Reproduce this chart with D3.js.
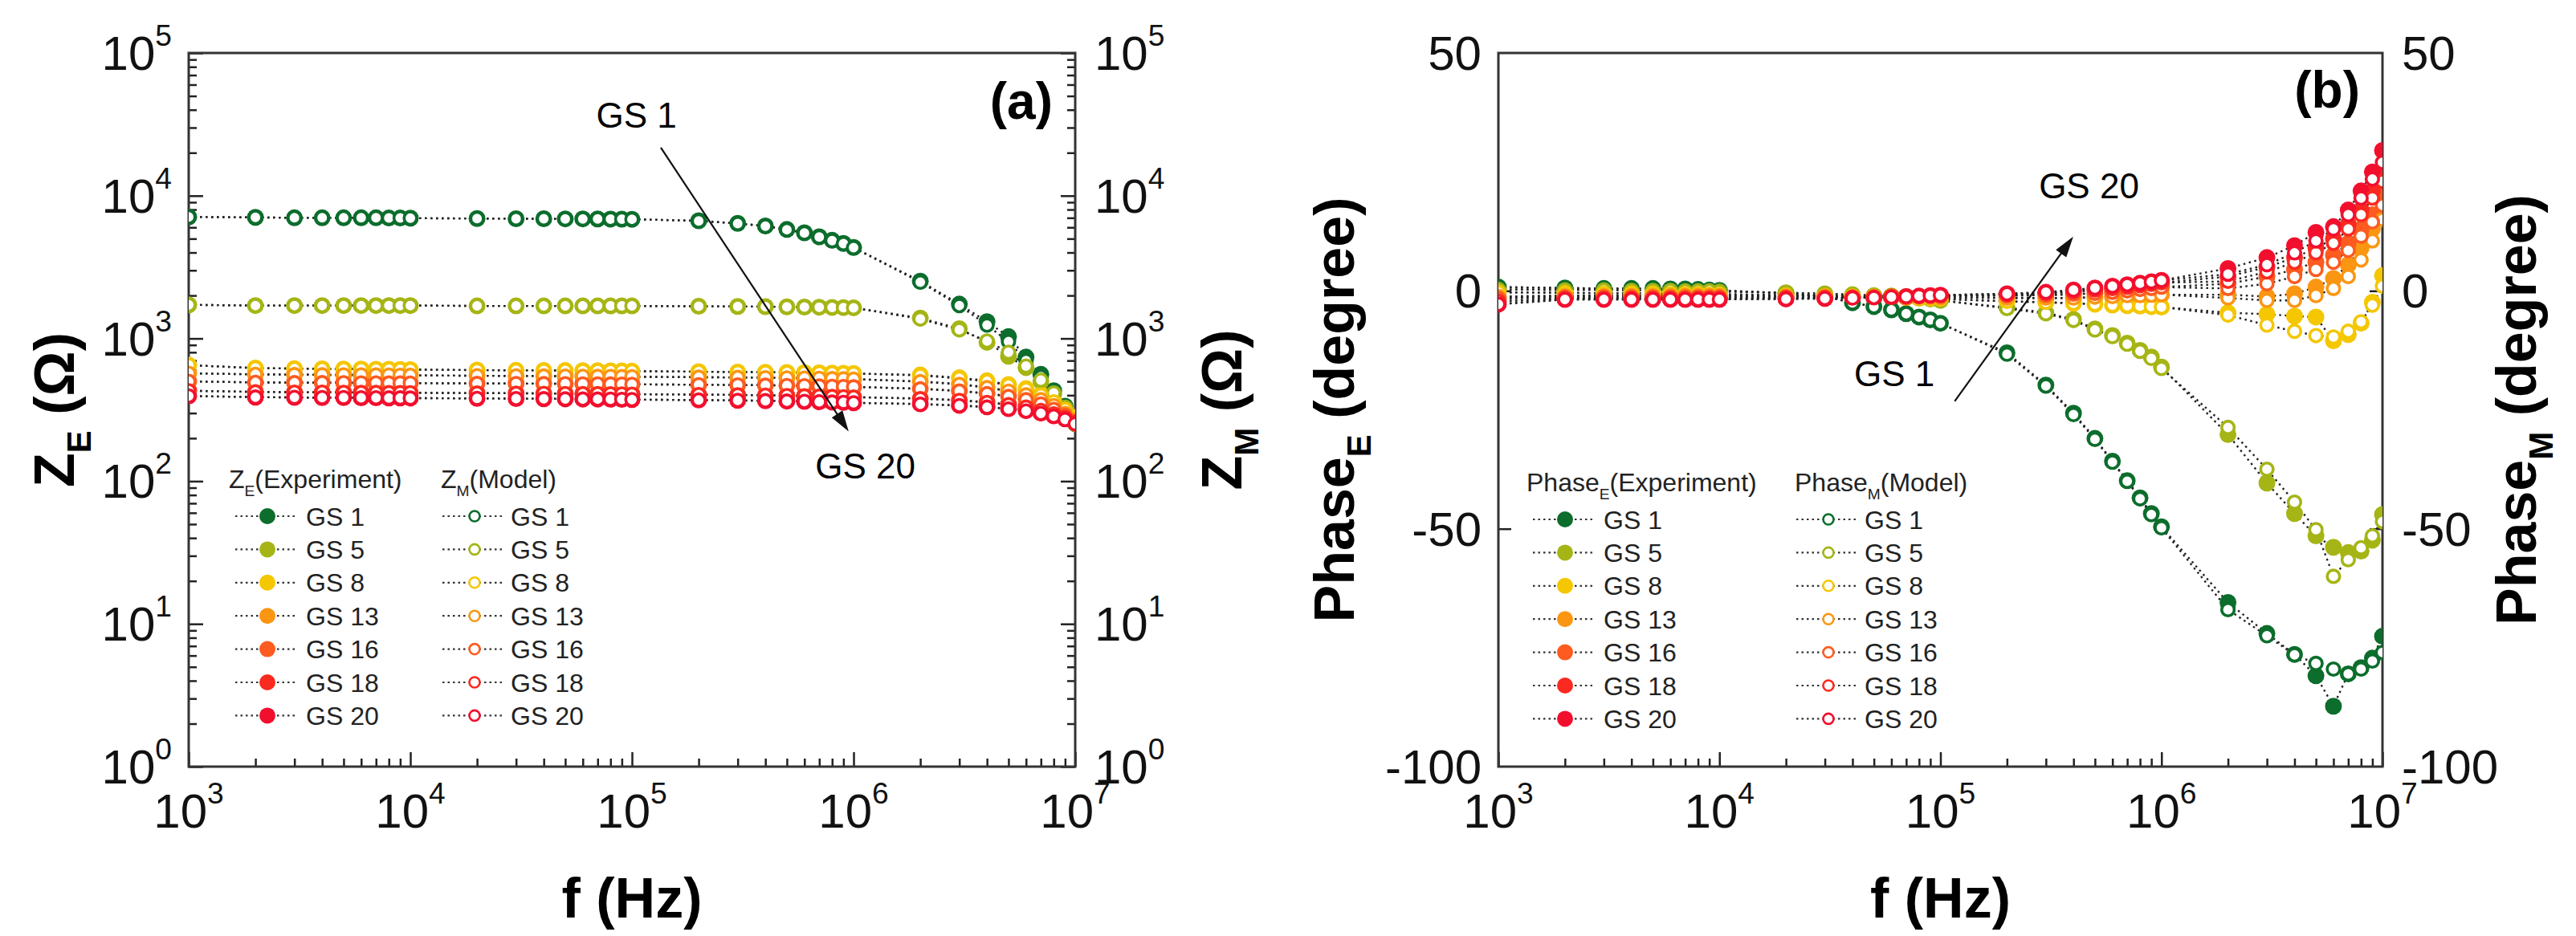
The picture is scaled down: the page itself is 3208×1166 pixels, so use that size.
<!DOCTYPE html>
<html>

<head>
  <meta charset="UTF-8">
  <style>
    body { margin: 0; background: #fff; }
    svg { display: block; font-family: "Liberation Sans", Arial, sans-serif; }
  </style>
</head>

<body>
  <svg></svg>
  <script src="https://d3js.org/d3.v7.min.js"></script>

  <script>

    let width = 3208, height = 1166;

    // measured frequencies (Hz)
    let freq = [1e3, 2e3, 3e3, 4e3, 5e3, 6e3, 7e3, 8e3, 9e3, 1e4,
      2e4, 3e4, 4e4, 5e4, 6e4, 7e4, 8e4, 9e4, 1e5,
      2e5, 3e5, 4e5, 5e5, 6e5, 7e5, 8e5, 9e5, 1e6,
      2e6, 3e6, 4e6, 5e6, 6e6, 7e6, 8e6, 9e6, 1e7];

    let samples = ["GS 1", "GS 5", "GS 8", "GS 13", "GS 16", "GS 18", "GS 20"];
    let colors = ["#0c6d2c", "#a5b515", "#f4c700", "#fb9612", "#fd5b20", "#fa2a20", "#f20f2e"];

    // impedance magnitude (ohm), experiment
    let zE_GS1 = [7100, 7050, 7000, 7000, 7000, 7000, 7000, 6980, 6980, 6960, 6920, 6900, 6900, 6880, 6880, 6870, 6860, 6850, 6840, 6680, 6400, 6140, 5800, 5500, 5150, 4870, 4630, 4340, 2520, 1740, 1310, 1030, 740, 560, 430, 335, 265];
    let zE_GS5 = [1720, 1700, 1700, 1700, 1700, 1700, 1700, 1700, 1700, 1700, 1690, 1690, 1690, 1690, 1690, 1690, 1690, 1690, 1690, 1680, 1675, 1670, 1665, 1660, 1655, 1650, 1645, 1640, 1390, 1170, 940, 750, 625, 500, 410, 325, 255];
    let zE_GS8 = [650, 620, 615, 612, 610, 610, 608, 608, 606, 605, 600, 598, 597, 596, 595, 594, 593, 592, 590, 585, 582, 580, 578, 576, 574, 572, 570, 568, 555, 530, 505, 475, 445, 405, 365, 320, 280];
    let zE_GS13 = [570, 560, 558, 556, 555, 555, 554, 553, 552, 551, 548, 546, 545, 544, 543, 542, 541, 540, 539, 535, 533, 531, 529, 527, 525, 523, 521, 519, 500, 480, 455, 430, 405, 375, 340, 300, 270];
    let zE_GS16 = [500, 492, 490, 490, 489, 488, 488, 487, 487, 486, 484, 483, 482, 481, 480, 480, 479, 478, 477, 474, 472, 470, 468, 466, 464, 462, 460, 458, 445, 430, 412, 395, 375, 350, 320, 290, 265];
    let zE_GS18 = [430, 422, 420, 420, 419, 418, 418, 417, 417, 416, 414, 413, 412, 411, 410, 410, 409, 408, 407, 404, 402, 400, 398, 396, 394, 392, 390, 388, 380, 370, 358, 345, 332, 315, 298, 280, 260];
    let zE_GS20 = [395, 388, 386, 385, 385, 384, 384, 383, 383, 382, 380, 379, 378, 377, 376, 376, 375, 374, 373, 370, 368, 366, 364, 362, 360, 358, 356, 354, 348, 340, 332, 322, 312, 300, 287, 273, 255];

    // impedance magnitude (ohm), model
    let zM_GS1 = [7100, 7050, 7000, 7000, 7000, 7000, 7000, 6980, 6980, 6960, 6920, 6900, 6900, 6880, 6880, 6870, 6860, 6850, 6840, 6660, 6380, 6120, 5780, 5480, 5130, 4850, 4610, 4320, 2480, 1700, 1240, 950, 700, 540, 415, 325, 250];
    let zM_GS5 = [1720, 1700, 1700, 1700, 1700, 1700, 1700, 1700, 1700, 1700, 1690, 1690, 1690, 1690, 1690, 1690, 1690, 1690, 1690, 1680, 1675, 1670, 1665, 1660, 1655, 1650, 1645, 1640, 1370, 1150, 960, 800, 640, 510, 415, 328, 250];
    let zM_GS8 = [650, 620, 615, 612, 610, 610, 608, 608, 606, 605, 600, 598, 597, 596, 595, 594, 593, 592, 590, 585, 582, 580, 578, 576, 574, 572, 570, 568, 550, 525, 500, 470, 440, 400, 360, 318, 278];
    let zM_GS13 = [570, 560, 558, 556, 555, 555, 554, 553, 552, 551, 548, 546, 545, 544, 543, 542, 541, 540, 539, 535, 533, 531, 529, 527, 525, 523, 521, 519, 498, 476, 452, 427, 402, 372, 338, 298, 268];
    let zM_GS16 = [500, 492, 490, 490, 489, 488, 488, 487, 487, 486, 484, 483, 482, 481, 480, 480, 479, 478, 477, 474, 472, 470, 468, 466, 464, 462, 460, 458, 443, 428, 410, 392, 372, 347, 318, 288, 262];
    let zM_GS18 = [430, 422, 420, 420, 419, 418, 418, 417, 417, 416, 414, 413, 412, 411, 410, 410, 409, 408, 407, 404, 402, 400, 398, 396, 394, 392, 390, 388, 378, 368, 356, 343, 330, 313, 296, 278, 258];
    let zM_GS20 = [395, 388, 386, 385, 385, 384, 384, 383, 383, 382, 380, 379, 378, 377, 376, 376, 375, 374, 373, 370, 368, 366, 364, 362, 360, 358, 356, 354, 346, 338, 330, 320, 310, 298, 285, 271, 252];

    // phase (degree), experiment
    let pE_GS1 = [0.8, 0.6, 0.5, 0.5, 0.5, 0.4, 0.4, 0.3, 0.2, 0.1, -0.5, -1.2, -2.5, -3.3, -4.0, -4.8, -5.5, -6.1, -6.8, -13, -19.8, -25.7, -31, -35.8, -39.9, -43.5, -46.8, -49.6, -65.5, -72, -76.4, -80.9, -87.3, -80.5, -79.2, -77.2, -72.6];
    let pE_GS5 = [0.3, 0.2, 0.2, 0.1, 0.1, 0.1, 0, 0, 0, -0.1, -0.4, -0.6, -0.8, -1, -1.1, -1.3, -1.5, -1.7, -2, -3.5, -4.6, -6, -8, -9.4, -11, -12.5, -13.9, -16, -30.2, -40.4, -46.8, -51.5, -53.9, -55, -54.7, -52.4, -47];
    let pE_GS8 = [-0.3, -0.4, -0.5, -0.5, -0.5, -0.6, -0.6, -0.6, -0.7, -0.7, -0.9, -1, -1.1, -1.2, -1.3, -1.4, -1.5, -1.6, -1.7, -2.2, -2.4, -2.6, -2.8, -3, -3.1, -3.2, -3.3, -3.4, -4.6, -4.9, -5.3, -5.5, -10.5, -9.2, -6.8, -2.4, 3.2];
    let pE_GS13 = [-1.2, -1, -1, -1, -1, -1, -1, -1, -1, -1, -1.1, -1.1, -1.2, -1.2, -1.2, -1.3, -1.3, -1.3, -1.4, -1.5, -1.5, -1.5, -1.3, -1.2, -1, -1, -0.9, -0.8, -0.8, -1.2, -0.6, 0.8, 2.6, 5.5, 9, 13, 17];
    let pE_GS16 = [-1.6, -1.3, -1.3, -1.3, -1.3, -1.3, -1.3, -1.3, -1.3, -1.3, -1.3, -1.3, -1.3, -1.3, -1.2, -1.2, -1.2, -1.1, -1.1, -1, -0.9, -0.7, -0.5, -0.3, 0, 0.3, 0.5, 0.8, 1.5, 3, 4.5, 6, 7.5, 10, 13, 16, 20];
    let pE_GS18 = [-2.2, -1.6, -1.6, -1.6, -1.6, -1.6, -1.6, -1.6, -1.6, -1.6, -1.5, -1.5, -1.4, -1.4, -1.3, -1.3, -1.2, -1.1, -1, -0.8, -0.5, -0.2, 0.2, 0.5, 0.8, 1.1, 1.4, 1.7, 3, 5, 7, 9, 11, 14, 17, 21, 24];
    let pE_GS20 = [-2.8, -1.8, -1.8, -1.8, -1.8, -1.8, -1.8, -1.8, -1.8, -1.8, -1.7, -1.6, -1.5, -1.4, -1.3, -1.2, -1.1, -1, -0.9, -0.6, -0.3, 0.2, 0.6, 1, 1.3, 1.6, 1.9, 2.2, 4.7, 7, 9.5, 12.3, 13.5, 17, 21, 25, 29.5];

    // phase (degree), model
    let pM_GS1 = [0.8, 0.6, 0.5, 0.5, 0.5, 0.4, 0.4, 0.3, 0.2, 0.1, -0.5, -1.2, -2.5, -3.3, -4.0, -4.8, -5.5, -6.1, -6.8, -13.3, -20, -26, -31.2, -36, -40, -43.7, -47, -49.8, -67, -72.5, -76.5, -78.3, -79.5, -80.5, -79.5, -77.8, -76];
    let pM_GS5 = [0.3, 0.2, 0.2, 0.1, 0.1, 0.1, 0, 0, 0, -0.1, -0.4, -0.6, -0.8, -1, -1.1, -1.3, -1.5, -1.7, -2, -3.7, -4.8, -6.2, -8.2, -9.6, -11.2, -12.7, -14.2, -16.3, -28.7, -37.5, -44.4, -50.2, -60, -56.5, -54, -51.5, -48.5];
    let pM_GS8 = [-0.3, -0.4, -0.5, -0.5, -0.5, -0.6, -0.6, -0.6, -0.7, -0.7, -0.9, -1, -1.1, -1.2, -1.3, -1.4, -1.5, -1.6, -1.7, -2.2, -2.4, -2.6, -2.8, -3, -3.1, -3.2, -3.3, -3.4, -5.1, -7.2, -8.5, -9.4, -9.7, -8.5, -6.5, -3, 1];
    let pM_GS13 = [-1.2, -1, -1, -1, -1, -1, -1, -1, -1, -1, -1.1, -1.1, -1.2, -1.2, -1.2, -1.3, -1.3, -1.3, -1.4, -1.5, -1.5, -1.5, -1.3, -1.2, -1, -1, -0.9, -0.8, -1.5, -2, -2, -1, 0.5, 3, 6.5, 10.5, 15];
    let pM_GS16 = [-1.6, -1.3, -1.3, -1.3, -1.3, -1.3, -1.3, -1.3, -1.3, -1.3, -1.3, -1.3, -1.3, -1.3, -1.2, -1.2, -1.2, -1.1, -1.1, -1, -0.9, -0.7, -0.5, -0.3, 0, 0.3, 0.5, 0.8, 0.5, 1.5, 3, 4.5, 6, 8.5, 11.5, 14.5, 18];
    let pM_GS18 = [-2.2, -1.6, -1.6, -1.6, -1.6, -1.6, -1.6, -1.6, -1.6, -1.6, -1.5, -1.5, -1.4, -1.4, -1.3, -1.3, -1.2, -1.1, -1, -0.8, -0.5, -0.2, 0.2, 0.5, 0.8, 1.1, 1.4, 1.7, 2, 4, 6, 8, 10, 13, 16, 19.5, 23];
    let pM_GS20 = [-2.8, -1.8, -1.8, -1.8, -1.8, -1.8, -1.8, -1.8, -1.8, -1.8, -1.7, -1.6, -1.5, -1.4, -1.3, -1.2, -1.1, -1, -0.9, -0.6, -0.3, 0.2, 0.6, 1, 1.3, 1.6, 1.9, 2.2, 3.5, 5.5, 8, 10.5, 13, 16, 19.5, 23.5, 27];

    let zExp = [zE_GS1, zE_GS5, zE_GS8, zE_GS13, zE_GS16, zE_GS18, zE_GS20];
    let zMod = [zM_GS1, zM_GS5, zM_GS8, zM_GS13, zM_GS16, zM_GS18, zM_GS20];
    let pExp = [pE_GS1, pE_GS5, pE_GS8, pE_GS13, pE_GS16, pE_GS18, pE_GS20];
    let pMod = [pM_GS1, pM_GS5, pM_GS8, pM_GS13, pM_GS16, pM_GS18, pM_GS20];

    let xMajor = [1e3, 1e4, 1e5, 1e6, 1e7];
    let zMajor = [1, 10, 100, 1e3, 1e4, 1e5];
    let pMajor = [50, 0, -50, -100];

    let svg = d3.select("svg")
      .attr("width", width)
      .attr("height", height)
      .attr("viewBox", "0 0 " + width + " " + height);

    let plotTop = 66, plotBottom = 955;
    let tickFont = 60, titleFont = 70, legFont = 32;

    // minor ticks of a log scale (2..9 of each decade)
    function logMinor(scale) {
      let [a, b] = scale.domain();
      let out = [];
      for (let e = Math.log10(a); e < Math.log10(b); e++)
        for (let k = 2; k <= 9; k++) out.push(k * Math.pow(10, e));
      return out;
    }

    function powText(sel, v) {
      sel.append("tspan").text("10");
      sel.append("tspan").attr("dy", -0.5 * tickFont).attr("font-size", 0.62 * tickFont)
        .text(Math.round(Math.log10(v)));
    }

    function subText(sel, main, sub, rest, size) {
      sel.append("tspan").text(main);
      sel.append("tspan").attr("dy", 0.3 * size).attr("font-size", 0.6 * size).text(sub);
      sel.append("tspan").attr("dy", -0.3 * size).text(rest);
    }

    function drawPanel(p) {
      let g = svg.append("g");
      let x = p.x, y = p.y;
      let [x0, x1] = x.range();

      g.append("clipPath").attr("id", p.id + "-clip")
        .append("rect").attr("x", x0).attr("y", plotTop).attr("width", x1 - x0).attr("height", plotBottom - plotTop);

      // bottom axis: inward ticks
      g.append("g").attr("transform", "translate(0," + plotBottom + ")")
        .call(d3.axisBottom(x).tickValues(xMajor).tickSize(-18).tickFormat(""))
        .call(a => a.select(".domain").remove());
      g.append("g").attr("transform", "translate(0," + plotBottom + ")")
        .call(d3.axisBottom(x).tickValues(logMinor(x)).tickSize(-10).tickFormat(""))
        .call(a => a.select(".domain").remove());

      // left / right axes
      let yTicks = p.log ? p.major : p.inner;
      [[x0, d3.axisRight], [x1, d3.axisLeft]].forEach(([px, ax]) => {
        g.append("g").attr("transform", "translate(" + px + ",0)")
          .call(ax(y).tickValues(yTicks).tickSize(p.log ? 18 : 16).tickFormat(""))
          .call(a => a.select(".domain").remove());
        if (p.log) {
          g.append("g").attr("transform", "translate(" + px + ",0)")
            .call(ax(y).tickValues(logMinor(y)).tickSize(10).tickFormat(""))
            .call(a => a.select(".domain").remove());
        }
      });
      g.selectAll(".tick line").attr("stroke", "#222").attr("stroke-width", 2.5);

      // frame
      g.append("rect").attr("x", x0).attr("y", plotTop).attr("width", x1 - x0).attr("height", plotBottom - plotTop)
        .attr("fill", "none").attr("stroke", "#333").attr("stroke-width", 3);

      // tick labels
      xMajor.forEach(v => {
        g.append("text").attr("x", x(v)).attr("y", plotBottom + 76)
          .attr("text-anchor", "middle").attr("font-size", tickFont).attr("fill", "#111")
          .call(powText, v);
      });
      p.major.forEach(v => {
        let l = g.append("text").attr("x", x0 - 21).attr("y", y(v) + 21)
          .attr("text-anchor", "end").attr("font-size", tickFont).attr("fill", "#111");
        let r = g.append("text").attr("x", x1 + 24).attr("y", y(v) + 21)
          .attr("text-anchor", "start").attr("font-size", tickFont).attr("fill", "#111");
        if (p.log) { l.call(powText, v); r.call(powText, v); }
        else { l.text(v); r.text(v); }
      });

      // axis titles
      let cy = (plotTop + plotBottom) / 2;
      g.append("text").attr("transform", "translate(" + p.leftTitleX + "," + cy + ") rotate(-90)")
        .attr("text-anchor", "middle").attr("font-size", titleFont).attr("font-weight", "bold")
        .call(subText, p.title, "E", p.unit, titleFont);
      g.append("text").attr("transform", "translate(" + p.rightTitleX + "," + cy + ") rotate(-90)")
        .attr("text-anchor", "middle").attr("font-size", titleFont).attr("font-weight", "bold")
        .call(subText, p.title, "M", p.unit, titleFont);
      g.append("text").attr("x", (x0 + x1) / 2).attr("y", 1143)
        .attr("text-anchor", "middle").attr("font-size", titleFont).attr("font-weight", "bold")
        .text("f (Hz)");
      g.append("text").attr("x", x1 - 28).attr("y", p.tagY)
        .attr("text-anchor", "end").attr("font-size", 64).attr("font-weight", "bold")
        .text(p.tag);

      // data
      let plot = g.append("g").attr("clip-path", "url(#" + p.id + "-clip)");
      let line = d3.line().x((d, i) => x(freq[i])).y(d => y(d));
      p.exp.concat(p.mod).forEach(s => {
        plot.append("path").attr("d", line(s)).attr("fill", "none")
          .attr("stroke", "#222").attr("stroke-width", 2.4).attr("stroke-dasharray", "2.5,4.5");
      });
      p.exp.forEach((s, k) => {
        plot.append("g").selectAll("circle").data(s).join("circle")
          .attr("cx", (d, i) => x(freq[i])).attr("cy", d => y(d)).attr("r", 10.5)
          .attr("fill", colors[k]);
      });
      p.mod.forEach((s, k) => {
        plot.append("g").selectAll("circle").data(s).join("circle")
          .attr("cx", (d, i) => x(freq[i])).attr("cy", d => y(d)).attr("r", 7.8)
          .attr("fill", "#fff").attr("stroke", colors[k]).attr("stroke-width", 3.6);
      });

      // annotations
      let ann = p.ann;
      g.append("text").attr("x", x(ann.a[0])).attr("y", y(ann.a[1])).attr("font-size", 44)
        .attr("text-anchor", "start").text("GS 1");
      g.append("text").attr("x", x(ann.b[0])).attr("y", y(ann.b[1])).attr("font-size", 44)
        .attr("text-anchor", ann.bAnchor).text("GS 20");
      let ax0 = x(ann.from[0]), ay0 = y(ann.from[1]), ax1 = x(ann.to[0]), ay1 = y(ann.to[1]);
      let ang = Math.atan2(ay1 - ay0, ax1 - ax0), hl = 26, hw = 8;
      g.append("line").attr("x1", ax0).attr("y1", ay0)
        .attr("x2", ax1 - Math.cos(ang) * hl * 0.8).attr("y2", ay1 - Math.sin(ang) * hl * 0.8)
        .attr("stroke", "#111").attr("stroke-width", 2.2);
      let bx = ax1 - Math.cos(ang) * hl, by = ay1 - Math.sin(ang) * hl;
      g.append("path").attr("fill", "#111").attr("d",
        "M" + ax1 + "," + ay1 +
        "L" + (bx - Math.sin(ang) * hw) + "," + (by + Math.cos(ang) * hw) +
        "L" + (bx + Math.sin(ang) * hw) + "," + (by - Math.cos(ang) * hw) + "Z");

      // legend
      let L = p.leg;
      let lg = g.append("g").attr("font-size", legFont).attr("fill", "#222");
      lg.append("text").attr("x", L.ex - 48).attr("y", L.y0 - 46 + 11)
        .call(subText, p.legTitle, "E", "(Experiment)", legFont);
      lg.append("text").attr("x", L.mx - 42).attr("y", L.y0 - 46 + 11)
        .call(subText, p.legTitle, "M", "(Model)", legFont);
      samples.forEach((name, k) => {
        let ry = L.y0 + k * 41.4;
        [[L.ex, 40, 36], [L.mx, 40, 34]].forEach(([cx, a, b]) => {
          lg.append("line").attr("x1", cx - a).attr("x2", cx + b).attr("y1", ry).attr("y2", ry)
            .attr("stroke", "#333").attr("stroke-width", 2.2).attr("stroke-dasharray", "2.5,4");
        });
        lg.append("circle").attr("cx", L.ex).attr("cy", ry).attr("r", 10).attr("fill", colors[k]);
        lg.append("circle").attr("cx", L.mx).attr("cy", ry).attr("r", 6.5)
          .attr("fill", "#fff").attr("stroke", colors[k]).attr("stroke-width", 2.6);
        lg.append("text").attr("x", L.ex + 48).attr("y", ry + 11.5).text(name);
        lg.append("text").attr("x", L.mx + 45).attr("y", ry + 11.5).text(name);
      });
    }

    drawPanel({
      id: "pa", tag: "(a)", tagY: 148, log: true,
      x: d3.scaleLog().domain([1e3, 1e7]).range([235, 1339]),
      y: d3.scaleLog().domain([1, 1e5]).range([plotBottom, plotTop]),
      major: zMajor, exp: zExp, mod: zMod,
      title: "Z", unit: " (\u03A9)", legTitle: "Z",
      leftTitleX: 92, rightTitleX: 1546,
      leg: { ex: 333, mx: 591, y0: 643 },
      ann: { a: [6.9e4, 30000], b: [1.13e6, 105], bAnchor: "middle", from: [1.35e5, 21700], to: [9.5e5, 223] }
    });

    drawPanel({
      id: "pb", tag: "(b)", tagY: 134, log: false,
      x: d3.scaleLog().domain([1e3, 1e7]).range([1866, 2967]),
      y: d3.scaleLinear().domain([-100, 50]).range([plotBottom, plotTop]),
      major: pMajor, inner: [0, -50], exp: pExp, mod: pMod,
      title: "Phase", unit: " (degree)", legTitle: "Phase",
      leftTitleX: 1686, rightTitleX: 3158,
      leg: { ex: 1949, mx: 2277, y0: 647 },
      ann: { a: [4.07e4, -20], b: [2.79e5, 19.5], bAnchor: "start", from: [1.16e5, -23.2], to: [3.99e5, 11.4] }
    });

  </script>

</body>

</html>
